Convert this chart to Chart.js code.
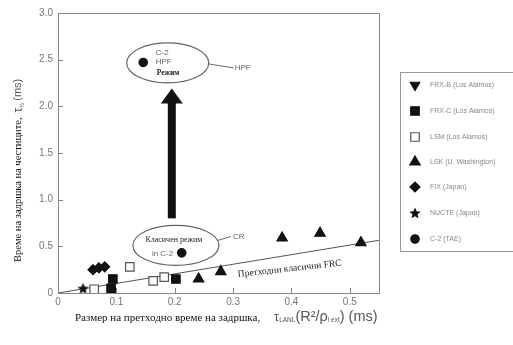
<!DOCTYPE html>
<html>
<head>
<meta charset="utf-8">
<script src="https://cdn.jsdelivr.net/npm/chart.js@4/dist/chart.umd.min.js"></script>
<style>
  body { margin: 0; background: #fff; }
  canvas { display: block; }
</style>
</head>
<body>
<canvas id="chart" width="513" height="345"></canvas>
<script>
// data
const seriesNames = ["FRX-B (Los Alamos)", "FRX-C (Los Alamos)", "LSM (Los Alamos)",
  "LSK (U. Washington)", "FIX (Japan)", "NUCTE (Japan)", "C-2 (TAE)"];
const frxbX = [];
const frxbY = [];
const frxcX = [0.091, 0.094, 0.202];
const frxcY = [0.05, 0.15, 0.15];
const lsmX = [0.062, 0.123, 0.163, 0.182];
const lsmY = [0.04, 0.28, 0.13, 0.17];
const lskX = [0.241, 0.279, 0.384, 0.449, 0.519];
const lskY = [0.15, 0.23, 0.59, 0.64, 0.54];
const fikX = [0.060, 0.070, 0.080];
const fikY = [0.25, 0.27, 0.28];
const nucteX = [0.043];
const nucteY = [0.05];
const c2X = [0.212, 0.146];
const c2Y = [0.43, 2.47];
const frcLineX = [0, 0.55];
const frcLineY = [0, 0.565];

const xTicks = [0, 0.1, 0.2, 0.3, 0.4, 0.5];
const xTickLabels = ["0", "0.1", "0.2", "0.3", "0.4", "0.5"];
const yTicks = [0, 0.5, 1, 1.5, 2, 2.5, 3];
const yTickLabels = ["0", "0.5", "1.0", "1.5", "2.0", "2.5", "3.0"];

// annotations (data coords)
const arrowX = [0.195];
const arrowY = [0.80, 2.19];
const hpfEllipse = [0.188, 2.465];
const crEllipse = [0.202, 0.51];

const pts = (xs, ys) => xs.map((x, i) => ({ x: x, y: ys[i] }));

function makeStar(size) {
  const c = document.createElement("canvas");
  c.width = size; c.height = size;
  const g = c.getContext("2d");
  const cx = size / 2, cy = size / 2 + 0.5, R = size / 2, r = R * 0.45;
  g.beginPath();
  for (let i = 0; i < 10; i++) {
    const a = -Math.PI / 2 + i * Math.PI / 5;
    const rr = i % 2 ? r : R;
    g.lineTo(cx + rr * Math.cos(a), cy + rr * Math.sin(a));
  }
  g.closePath();
  g.fillStyle = "#111";
  g.fill();
  return c;
}
const star = makeStar(12);

const markers = [
  { pointStyle: "triangle", radius: 5.5, rotation: 180, fill: "#111", stroke: "#111" },
  { pointStyle: "rect", radius: 6, rotation: 0, fill: "#111", stroke: "#111" },
  { pointStyle: "rect", radius: 6, rotation: 0, fill: "#fff", stroke: "#555" },
  { pointStyle: "triangle", radius: 6, rotation: 0, fill: "#111", stroke: "#111" },
  { pointStyle: "rectRot", radius: 5, rotation: 0, fill: "#111", stroke: "#111" },
  { pointStyle: star, radius: 6, rotation: 0, fill: "#111", stroke: "#111" },
  { pointStyle: "circle", radius: 4.2, rotation: 0, fill: "#111", stroke: "#111" }
];
const seriesData = [pts(frxbX, frxbY), pts(frxcX, frxcY), pts(lsmX, lsmY), pts(lskX, lskY),
  pts(fikX, fikY), pts(nucteX, nucteY), pts(c2X, c2Y)];

const datasets = seriesData.map((d, i) => ({
  label: seriesNames[i],
  data: d,
  pointStyle: markers[i].pointStyle,
  pointRadius: markers[i].radius,
  rotation: markers[i].rotation,
  backgroundColor: markers[i].fill,
  borderColor: markers[i].stroke,
  borderWidth: 1.2
}));
datasets.push({
  label: "FRC",
  data: pts(frcLineX, frcLineY),
  showLine: true,
  pointRadius: 0,
  borderColor: "#555",
  borderWidth: 1
});

const sans = "'Liberation Sans', Arial, sans-serif";
const serif = "'Liberation Serif', 'Times New Roman', serif";

const decor = {
  id: "decor",
  afterDraw(chart) {
    const ctx = chart.ctx;
    const a = chart.chartArea;
    const xs = chart.scales.x, ys = chart.scales.y;
    ctx.save();

    // frame top + right
    ctx.strokeStyle = "#888";
    ctx.lineWidth = 1;
    ctx.beginPath();
    ctx.moveTo(a.left, a.top + 0.5);
    ctx.lineTo(a.right + 0.5, a.top + 0.5);
    ctx.lineTo(a.right + 0.5, a.bottom);
    ctx.stroke();

    // inner ticks
    ctx.beginPath();
    yTicks.forEach(v => {
      const y = Math.round(ys.getPixelForValue(v)) + 0.5;
      ctx.moveTo(a.left, y); ctx.lineTo(a.left + 5, y);
    });
    xTicks.forEach(v => {
      const x = Math.round(xs.getPixelForValue(v)) + 0.5;
      ctx.moveTo(x, a.bottom); ctx.lineTo(x, a.bottom - 5);
    });
    ctx.stroke();

    // arrow
    const ax = xs.getPixelForValue(arrowX[0]);
    const ay0 = ys.getPixelForValue(arrowY[0]);
    const ay1 = ys.getPixelForValue(arrowY[1]);
    ctx.fillStyle = "#111";
    ctx.fillRect(ax - 4, ay1 + 12, 8, ay0 - ay1 - 12);
    ctx.beginPath();
    ctx.moveTo(ax, ay1);
    ctx.lineTo(ax + 11, ay1 + 15);
    ctx.lineTo(ax - 11, ay1 + 15);
    ctx.closePath();
    ctx.fill();

    // ellipses
    ctx.strokeStyle = "#666";
    ctx.lineWidth = 1.2;
    const hx = xs.getPixelForValue(hpfEllipse[0]), hy = ys.getPixelForValue(hpfEllipse[1]);
    ctx.beginPath(); ctx.ellipse(hx, hy, 41, 20, 0, 0, Math.PI * 2); ctx.stroke();
    const cx = xs.getPixelForValue(crEllipse[0]), cy = ys.getPixelForValue(crEllipse[1]);
    ctx.beginPath(); ctx.ellipse(cx, cy, 43, 20, 0, 0, Math.PI * 2); ctx.stroke();
    ctx.lineWidth = 1;
    ctx.beginPath();
    ctx.moveTo(hx + 41, hy + 1); ctx.lineTo(hx + 66, hy + 5);
    ctx.moveTo(cx + 42, cy - 5); ctx.lineTo(cx + 55, cy - 9);
    ctx.stroke();

    ctx.fillStyle = "#666";
    ctx.font = "8px " + sans;
    ctx.textBaseline = "middle";
    ctx.textAlign = "left";
    ctx.fillText("C-2", hx - 12, hy - 10);
    ctx.fillText("HPF", hx - 12, hy - 1);
    ctx.fillText("HPF", hx + 67, hy + 5);
    ctx.fillText("in C-2", cx - 24, cy + 8);
    ctx.fillText("CR", cx + 57, cy - 9);
    ctx.fillStyle = "#222";
    ctx.font = "bold 7.5px " + serif;
    ctx.fillText("Режим", hx - 11, hy + 10);
    ctx.font = "8px " + serif;
    ctx.textAlign = "center";
    ctx.fillText("Класичен режим", cx - 2, cy - 5);

    // label along FRC line
    ctx.save();
    ctx.translate(xs.getPixelForValue(0.397), ys.getPixelForValue(0.26));
    ctx.rotate(-0.11);
    ctx.font = "9.5px " + serif;
    ctx.fillStyle = "#222";
    ctx.fillText("Претходни класични FRC", 0, 0);
    ctx.restore();

    // legend box
    ctx.strokeStyle = "#999";
    ctx.lineWidth = 1;
    ctx.strokeRect(400.5, 72.5, 130, 179);
    const rowY = [85, 111, 137, 162, 187, 213, 239];
    seriesNames.forEach((name, i) => {
      const m = markers[i];
      ctx.fillStyle = m.fill;
      ctx.strokeStyle = m.stroke;
      ctx.lineWidth = 1.2;
      Chart.helpers.drawPoint(ctx, { pointStyle: m.pointStyle, radius: m.radius, rotation: m.rotation, borderWidth: 1.2 }, 415, rowY[i]);
      ctx.fillStyle = "#888";
      ctx.font = "7px " + sans;
      ctx.textAlign = "left";
      ctx.textBaseline = "middle";
      ctx.fillText(name, 430, rowY[i] + 0.5);
    });

    // x title
    ctx.textAlign = "left";
    ctx.textBaseline = "middle";
    ctx.fillStyle = "#111";
    ctx.font = "11px " + serif;
    ctx.fillText("Размер на претходно време на задршка,", 75, 318);
    let x = 274;
    const part = (t, font, dy) => {
      ctx.font = font;
      ctx.fillText(t, x, 317 + dy);
      x += ctx.measureText(t).width;
    };
    ctx.fillStyle = "#555";
    part("τ", "13px " + sans, 0);
    part("LANL", "6.5px " + sans, 3);
    part("(R²/ρ", "14.5px " + sans, 0);
    part("i ext", "6.5px " + sans, 3);
    part(") (ms)", "14.5px " + sans, 0);

    // y title
    ctx.save();
    ctx.translate(18, 262);
    ctx.rotate(-Math.PI / 2);
    ctx.fillStyle = "#111";
    ctx.font = "10.5px " + serif;
    ctx.textAlign = "left";
    ctx.fillText("Време на задршка на честиците,", 0, 0);
    let w = ctx.measureText("Време на задршка на честиците,").width + 5;
    ctx.fillStyle = "#555";
    ctx.font = "12px " + sans;
    ctx.fillText("τ", w, 1);
    w += ctx.measureText("τ").width;
    ctx.font = "6px " + sans;
    ctx.fillText("½", w, 4);
    w += ctx.measureText("½").width + 2;
    ctx.font = "11px " + sans;
    ctx.fillText("(ms)", w, 0);
    ctx.restore();

    ctx.restore();
  }
};

new Chart(document.getElementById("chart"), {
  type: "scatter",
  data: { datasets: datasets },
  options: {
    responsive: false,
    animation: false,
    devicePixelRatio: 1,
    layout: { padding: { top: 13, right: 134, left: 0, bottom: 0 } },
    plugins: { legend: { display: false }, tooltip: { enabled: false } },
    scales: {
      x: {
        type: "linear", min: 0, max: 0.55,
        afterBuildTicks: s => { s.ticks = xTicks.map(v => ({ value: v })); },
        afterFit: s => { s.height = 52; },
        ticks: {
          callback: (v, i) => xTickLabels[i],
          color: "#777", font: { family: sans, size: 10 }, padding: 3, maxRotation: 0
        },
        grid: { display: true, drawOnChartArea: false, drawTicks: false },
        border: { color: "#888", width: 1 }
      },
      y: {
        type: "linear", min: 0, max: 3,
        afterBuildTicks: s => { s.ticks = yTicks.map(v => ({ value: v })); },
        afterFit: s => { s.width = 58; },
        ticks: {
          callback: (v, i) => yTickLabels[i],
          color: "#777", font: { family: sans, size: 10 }, padding: 5
        },
        grid: { display: true, drawOnChartArea: false, drawTicks: false },
        border: { color: "#888", width: 1 }
      }
    }
  },
  plugins: [decor]
});
</script>
</body>
</html>
